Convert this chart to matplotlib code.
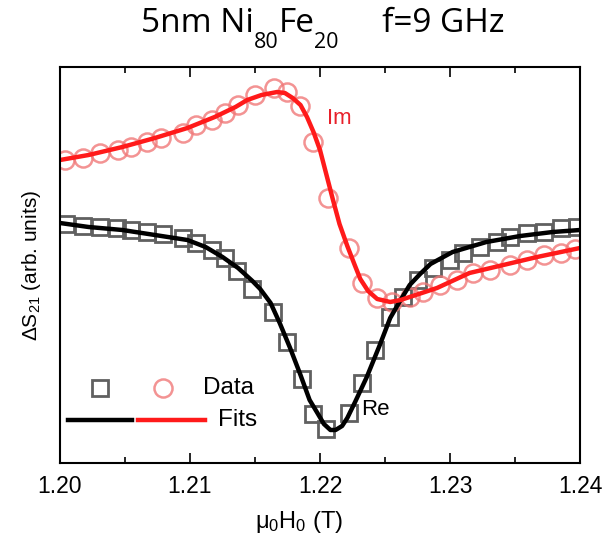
import numpy as np
import matplotlib
matplotlib.use("Agg")
import matplotlib.pyplot as plt
from matplotlib.ticker import MultipleLocator

plt.rcParams['font.family'] = ['Liberation Sans', 'DejaVu Sans']
plt.rcParams['mathtext.fontset'] = 'custom'
plt.rcParams['mathtext.rm'] = 'Liberation Sans'
plt.rcParams['mathtext.it'] = 'Liberation Sans'

# Re data (squares)
re_h = [1.2005, 1.2018, 1.2031, 1.2044, 1.2055, 1.2067, 1.2079, 1.2095, 1.2105,
        1.2117, 1.2127, 1.2136, 1.2148, 1.2164, 1.2175, 1.2186, 1.2195, 1.2205,
        1.2222, 1.2232, 1.2242, 1.2254, 1.2264, 1.2275, 1.2287, 1.2300, 1.2310,
        1.2323, 1.2336, 1.2346, 1.2359, 1.2372, 1.2385, 1.2398]
re_s = [2.39, 2.37, 2.36, 2.35, 2.33, 2.31, 2.29, 2.25, 2.20,
        2.13, 2.05, 1.92, 1.74, 1.51, 1.21, 0.84, 0.49, 0.34,
        0.50, 0.80, 1.13, 1.46, 1.66, 1.83, 1.95, 2.03, 2.10,
        2.16, 2.21, 2.26, 2.30, 2.31, 2.35, 2.36]

# Im data (circles)
im_h = [1.2004, 1.2018, 1.2031, 1.2045, 1.2055, 1.2067, 1.2078, 1.2095, 1.2105,
        1.2117, 1.2127, 1.2137, 1.2150, 1.2165, 1.2175, 1.2185, 1.2195, 1.2206,
        1.2222, 1.2232, 1.2244, 1.2255, 1.2269, 1.2279, 1.2292, 1.2305, 1.2318,
        1.2331, 1.2346, 1.2359, 1.2372, 1.2385, 1.2396]
im_s = [3.03, 3.05, 3.10, 3.13, 3.16, 3.21, 3.25, 3.30, 3.38,
        3.43, 3.50, 3.58, 3.68, 3.75, 3.71, 3.57, 3.21, 2.65,
        2.15, 1.80, 1.65, 1.61, 1.66, 1.71, 1.78, 1.83, 1.90,
        1.93, 1.98, 2.03, 2.08, 2.10, 2.14]

# fit curves
re_fit_h = [1.2000, 1.2022, 1.2048, 1.2073, 1.2098, 1.2112, 1.2125, 1.2137, 1.2148,
            1.2154, 1.2162, 1.2169, 1.2177, 1.2185, 1.2192, 1.2198, 1.2203, 1.2208,
            1.2212, 1.2217, 1.2221, 1.2227, 1.2236, 1.2246, 1.2254, 1.2262, 1.2269,
            1.2277, 1.2285, 1.2302, 1.2328, 1.2354, 1.2379, 1.2400]
re_fit_s = [2.40, 2.36, 2.33, 2.28, 2.23, 2.16, 2.06, 1.95, 1.82,
            1.74, 1.60, 1.40, 1.15, 0.88, 0.63, 0.50, 0.39, 0.33,
            0.33, 0.37, 0.45, 0.61, 0.86, 1.18, 1.45, 1.63, 1.78,
            1.89, 1.99, 2.11, 2.21, 2.27, 2.31, 2.33]

im_fit_h = [1.2000, 1.2022, 1.2048, 1.2073, 1.2098, 1.2119, 1.2135, 1.2144, 1.2155,
            1.2167, 1.2173, 1.2179, 1.2185, 1.2190, 1.2195, 1.2200, 1.2205, 1.2210,
            1.2215, 1.2221, 1.2227, 1.2231, 1.2237, 1.2244, 1.2254, 1.2262, 1.2269,
            1.2290, 1.2315, 1.2341, 1.2367, 1.2400]
im_fit_s = [3.03, 3.08, 3.16, 3.25, 3.35, 3.46, 3.56, 3.63, 3.68,
            3.71, 3.70, 3.65, 3.58, 3.46, 3.31, 3.13, 2.88, 2.63,
            2.39, 2.17, 1.97, 1.84, 1.72, 1.64, 1.61, 1.63, 1.66,
            1.75, 1.90, 1.98, 2.06, 2.15]

# title pieces: (text, is_subscript)
title_parts = [("5nm Ni", False), ("80", True), ("Fe", False), ("20", True),
               ("     f=9 GHz", False)]

fig = plt.figure(figsize=(6.09, 5.47), dpi=100)
ax = fig.add_axes([0.0985, 0.1536, 0.8539, 0.7239])

sq_col = "#606060"
ci_col = "#f07878"

ax.plot(re_h, re_s, ls="none", marker="s", ms=11, mfc="none", mec=sq_col, mew=2)
ax.plot(im_h, im_s, ls="none", marker="o", ms=13, mfc="none", mec=ci_col, mew=1.8, alpha=0.8)
ax.plot(re_fit_h, re_fit_s, color="black", lw=3.2, solid_capstyle="round")
ax.plot(im_fit_h, im_fit_s, color="#ff1a1a", lw=3.2, solid_capstyle="round")

ax.set_xlim(1.20, 1.24)
ax.set_ylim(0, 3.96)
ax.xaxis.set_minor_locator(MultipleLocator(0.005))
ax.set_xticks([1.20, 1.21, 1.22, 1.23, 1.24])
ax.set_xticklabels(["1.20", "1.21", "1.22", "1.23", "1.24"])
ax.set_yticks([])
ax.tick_params(axis="x", which="both", direction="in", top=True, bottom=True,
               labelsize=16.5, pad=9, width=1.2)
ax.tick_params(axis="x", which="major", length=7)
ax.tick_params(axis="x", which="minor", length=4)
for sp in ax.spines.values():
    sp.set_linewidth(1.5)

ax.set_xlabel(r"$\mathregular{\mu_0H_0}$ (T)", fontsize=17, labelpad=9)
ax.xaxis.set_label_coords(0.46, -0.115)
ax.set_ylabel(r"$\mathregular{\Delta S_{21}}$ (arb. units)", fontsize=15, labelpad=12)

# title, laid out piece by piece so the subscripts sit low like the original
renderer = fig.canvas.get_renderer()
pieces = []
total = 0.0
for txt, sub in title_parts:
    t = fig.text(0, 0.912 if sub else 0.9415, txt, fontsize=15.5 if sub else 24,
                 family="Open Sans", va="baseline", ha="left")
    w = t.get_window_extent(renderer).width / fig.bbox.width
    pieces.append((t, w))
    total += w
x0 = 322.5 / 609 - total / 2
for t, w in pieces:
    t.set_x(x0)
    x0 += w

# annotations
ax.text(0.538, 0.871, "Im", color="#e8202a", fontsize=16, ha="center", va="center",
        transform=ax.transAxes)
ax.text(0.606, 0.134, "Re", color="black", fontsize=16, ha="center", va="center",
        transform=ax.transAxes)

# hand-made legend
ax.plot([0.077], [0.190], marker="s", ms=11, mfc="none", mec=sq_col, mew=2,
        transform=ax.transAxes)
ax.plot([0.198], [0.190], marker="o", ms=13, mfc="none", mec=ci_col, mew=1.8, alpha=0.8,
        transform=ax.transAxes)
ax.text(0.275, 0.190, "Data", fontsize=17.5, ha="left", va="center", transform=ax.transAxes)
ax.plot([0.015, 0.138], [0.109, 0.109], color="black", lw=3.2, transform=ax.transAxes)
ax.plot([0.150, 0.278], [0.109, 0.109], color="#ff1a1a", lw=3.2, transform=ax.transAxes)
ax.text(0.303, 0.109, "Fits", fontsize=17.5, ha="left", va="center", transform=ax.transAxes)

fig.savefig("out.png", dpi=100)
